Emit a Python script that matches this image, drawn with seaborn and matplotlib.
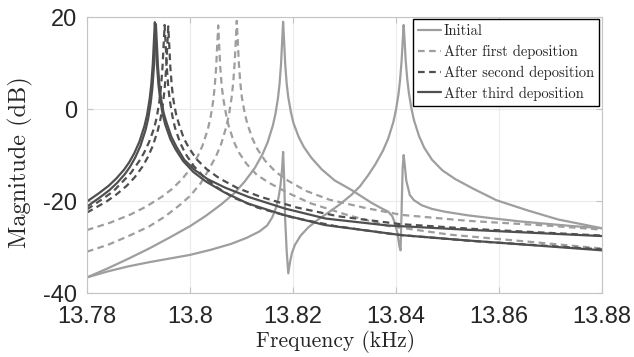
import pandas as pd
import matplotlib
matplotlib.use('Agg')
import matplotlib.pyplot as plt
import seaborn as sns

# values (frequency in kHz, magnitude in dB)
# Initial state, output a (main peak near 13.818, small blip near 13.841)
init_a_f = [13.7800, 13.7841, 13.7881, 13.7921, 13.7961, 13.8001, 13.8031, 13.8061, 13.8086, 13.8106,
            13.8126, 13.8141, 13.8151, 13.8161, 13.8166, 13.8171, 13.8174, 13.8177, 13.8179, 13.8181,
            13.8183, 13.8185, 13.8188, 13.8191, 13.8196, 13.8201, 13.8211, 13.8221, 13.8236, 13.8256,
            13.8281, 13.8314, 13.8353, 13.8371, 13.8385, 13.8393, 13.8398, 13.8403, 13.8407, 13.8409,
            13.8411, 13.8413, 13.8415, 13.8417, 13.8420, 13.8427, 13.8435, 13.8450, 13.8470, 13.8495,
            13.8540, 13.8592, 13.8640, 13.8689, 13.8740, 13.8800]
init_a_db = [-36.6, -34.6, -32.5, -30.3, -27.9, -25.4, -23.2, -20.7, -18.3, -15.8,
             -12.8, -9.8, -7.2, -3.6, -1.1, 2.4, 5.4, 9.9, 14.5, 19.0,
             14.5, 9.9, 5.4, 2.6, -0.6, -3.0, -6.0, -8.2, -10.6, -13.1,
             -15.5, -17.6, -20.4, -21.5, -22.3, -23.3, -24.8, -27.0, -30.0, -30.7,
             -22.0, -13.0, -10.0, -12.0, -15.5, -18.7, -19.8, -20.9, -21.7, -22.3,
             -23.1, -23.8, -24.4, -24.9, -25.4, -25.9]

# Initial state, output b (small blip near 13.818, main peak near 13.8415)
init_b_f = [13.7800, 13.7840, 13.7880, 13.7920, 13.7960, 13.8000, 13.8040, 13.8080, 13.8110, 13.8135,
            13.8150, 13.8160, 13.8167, 13.8172, 13.8176, 13.8179, 13.8181, 13.8183, 13.8185, 13.8188,
            13.8191, 13.8194, 13.8198, 13.8204, 13.8215, 13.8230, 13.8249, 13.8270, 13.8290, 13.8314,
            13.8330, 13.8346, 13.8360, 13.8375, 13.8385, 13.8395, 13.8400, 13.8405, 13.8408, 13.8411,
            13.8413, 13.8415, 13.8417, 13.8419, 13.8422, 13.8425, 13.8430, 13.8435, 13.8445, 13.8455,
            13.8470, 13.8490, 13.8515, 13.8550, 13.8595, 13.8655, 13.8715, 13.8800]
init_b_db = [-36.6, -35.3, -34.2, -33.3, -32.5, -31.7, -30.6, -29.3, -28.0, -26.6,
             -25.3, -23.5, -21.5, -19.3, -16.5, -13.0, -9.3, -15.0, -24.0, -31.0,
             -35.7, -33.5, -31.3, -29.5, -27.5, -25.7, -24.0, -22.4, -20.8, -18.6,
             -16.8, -14.4, -12.0, -9.0, -6.4, -2.8, -0.2, 3.3, 6.3, 10.5,
             14.5, 18.3, 14.5, 10.5, 6.5, 3.6, 0.2, -2.4, -5.9, -8.4,
             -11.0, -13.3, -15.2, -17.3, -19.8, -22.0, -24.0, -25.9]

# after first deposition
dep1_a_f = [13.7800, 13.7845, 13.7885, 13.7915, 13.7945, 13.7965, 13.7985, 13.8000, 13.8015, 13.8025,
            13.8035, 13.8040, 13.8045, 13.8048, 13.8051, 13.8053, 13.8055, 13.8057, 13.8059, 13.8062,
            13.8065, 13.8070, 13.8075, 13.8085, 13.8095, 13.8110, 13.8130, 13.8155, 13.8190, 13.8235,
            13.8305, 13.8385, 13.8505, 13.8655, 13.8800]
dep1_a_db = [-26.3, -24.7, -22.9, -21.2, -19.1, -17.4, -15.2, -13.1, -10.3, -7.8,
             -4.3, -1.9, 1.6, 4.6, 9.1, 13.7, 18.2, 13.7, 9.1, 4.8,
             2.2, -1.0, -3.5, -7.0, -9.4, -11.9, -14.3, -16.1, -18.2, -20.5,
             -23.0, -25.4, -27.3, -28.8, -30.3]
dep1_b_f = [13.7800, 13.7841, 13.7881, 13.7921, 13.7951, 13.7981, 13.8001, 13.8021, 13.8036, 13.8051,
            13.8061, 13.8071, 13.8076, 13.8081, 13.8084, 13.8087, 13.8089, 13.8091, 13.8093, 13.8095,
            13.8098, 13.8101, 13.8106, 13.8111, 13.8121, 13.8131, 13.8146, 13.8166, 13.8191, 13.8226,
            13.8271, 13.8341, 13.8411, 13.8541, 13.8691, 13.8800]
dep1_b_db = [-31.0, -29.5, -27.6, -25.5, -23.4, -20.8, -18.8, -16.1, -13.3, -10.2,
             -7.5, -3.7, -1.1, 2.5, 5.6, 10.1, 14.7, 19.2, 14.7, 10.1,
             5.6, 2.5, -0.6, -3.0, -6.3, -8.7, -11.2, -13.6, -15.6, -17.8,
             -19.7, -21.5, -23.0, -24.3, -25.3, -26.2]

# after second deposition
dep2_a_f = [13.7800, 13.7831, 13.7851, 13.7871, 13.7886, 13.7901, 13.7911, 13.7921, 13.7931, 13.7936,
            13.7941, 13.7944, 13.7947, 13.7949, 13.7951, 13.7953, 13.7955, 13.7958, 13.7961, 13.7966,
            13.7971, 13.7981, 13.7991, 13.8006, 13.8026, 13.8051, 13.8086, 13.8131, 13.8201, 13.8281,
            13.8401, 13.8551, 13.8800]
dep2_a_db = [-21.8, -19.5, -17.9, -15.6, -13.8, -11.4, -9.5, -7.1, -4.0, -1.6,
             1.9, 4.9, 9.4, 14.0, 18.3, 14.0, 9.4, 4.9, 1.9, -1.5,
             -4.0, -7.3, -9.6, -12.2, -14.6, -16.9, -19.3, -21.4, -23.6, -25.4,
             -27.3, -28.7, -30.5]
dep2_b_f = [13.7800, 13.7838, 13.7858, 13.7878, 13.7893, 13.7908, 13.7918, 13.7928, 13.7938, 13.7943,
            13.7948, 13.7951, 13.7954, 13.7956, 13.7958, 13.7960, 13.7962, 13.7965, 13.7968, 13.7973,
            13.7978, 13.7988, 13.7998, 13.8013, 13.8033, 13.8058, 13.8093, 13.8138, 13.8208, 13.8288,
            13.8408, 13.8558, 13.8800]
dep2_b_db = [-22.5, -20.1, -18.5, -16.6, -14.8, -12.5, -10.5, -8.0, -4.5, -2.1,
             1.4, 4.4, 8.9, 13.5, 18.0, 13.8, 9.2, 4.9, 2.0, -1.0,
             -3.0, -6.3, -8.4, -10.9, -13.1, -15.1, -17.2, -19.1, -21.4, -23.3,
             -25.0, -26.1, -27.5]

# after third deposition
dep3_a_f = [13.7800, 13.7822, 13.7842, 13.7857, 13.7872, 13.7882, 13.7892, 13.7902, 13.7912, 13.7917,
            13.7922, 13.7925, 13.7928, 13.7930, 13.7932, 13.7934, 13.7936, 13.7939, 13.7942, 13.7947,
            13.7952, 13.7962, 13.7972, 13.7987, 13.8007, 13.8032, 13.8067, 13.8112, 13.8182, 13.8262,
            13.8411, 13.8532, 13.8655, 13.8800]
dep3_a_db = [-20.1, -18.4, -16.7, -15.1, -13.2, -11.6, -9.6, -7.1, -3.6, -1.2,
             2.3, 5.3, 9.8, 14.4, 18.9, 14.4, 9.8, 5.3, 2.4, -1.0,
             -3.3, -6.5, -8.7, -11.3, -13.7, -15.8, -18.1, -20.5, -23.0, -25.2,
             -27.4, -28.5, -29.5, -30.7]
dep3_b_f = [13.7800, 13.7824, 13.7844, 13.7859, 13.7874, 13.7884, 13.7894, 13.7904, 13.7914, 13.7919,
            13.7924, 13.7927, 13.7930, 13.7932, 13.7934, 13.7936, 13.7938, 13.7941, 13.7944, 13.7949,
            13.7954, 13.7964, 13.7974, 13.7989, 13.8009, 13.8034, 13.8069, 13.8114, 13.8184, 13.8264,
            13.8384, 13.8534, 13.8800]
dep3_b_db = [-21.2, -19.3, -17.6, -16.0, -14.1, -12.5, -10.5, -8.0, -4.5, -2.1,
             1.4, 4.4, 8.9, 13.5, 18.5, 14.0, 9.4, 5.1, 2.3, -0.8,
             -2.7, -6.0, -8.2, -11.0, -13.2, -15.2, -17.1, -19.1, -21.6, -23.8,
             -25.3, -26.2, -27.6]

labels = ['Initial', 'After first deposition', 'After second deposition',
          'After third deposition']
x_ticks = [13.78, 13.80, 13.82, 13.84, 13.86, 13.88]
x_tick_labels = ['13.78', '13.8', '13.82', '13.84', '13.86', '13.88']
y_ticks = [-40, -20, 0, 20]

light = '#9e9e9e'
dark = '#4f4f4f'
styles = [(light, None), (light, (3, 2)), (dark, (3, 2)), (dark, None)]
pairs = [(init_a_f, init_a_db, init_b_f, init_b_db),
         (dep1_a_f, dep1_a_db, dep1_b_f, dep1_b_db),
         (dep2_a_f, dep2_a_db, dep2_b_f, dep2_b_db),
         (dep3_a_f, dep3_a_db, dep3_b_f, dep3_b_db)]

sns.set_theme(style='white')
plt.rcParams['font.family'] = ['Liberation Sans', 'DejaVu Sans']
plt.rcParams['axes.unicode_minus'] = False

fig = plt.figure(figsize=(6.34, 3.57), dpi=100)
ax = fig.add_axes([0.137, 0.179, 0.8125, 0.773])

handles = []
for (fa, da, fb, db), label, (col, dash) in zip(pairs, labels, styles):
    for k, (f, d) in enumerate([(fa, da), (fb, db)]):
        assert len(f) == len(d)
        df = pd.DataFrame({'freq': f, 'mag': d})
        sns.lineplot(data=df, x='freq', y='mag', ax=ax, color=col, lw=1.6,
                     estimator=None, sort=False)
        line = ax.lines[-1]
        line.set_solid_joinstyle('round')
        if dash is not None:
            line.set_dashes(dash)
        if k == 0:
            handles.append(line)

ax.set_xlim(13.78, 13.88)
ax.set_ylim(-40, 20)
ax.set_xticks(x_ticks)
ax.set_xticklabels(x_tick_labels)
ax.set_yticks(y_ticks)
ax.grid(True, color='#ebebeb', lw=0.8)
for s in ax.spines.values():
    s.set_color('#c4c4c4')
    s.set_linewidth(0.8)
ax.tick_params(direction='in', length=4, width=0.8, color='#c4c4c4',
               labelsize=17, labelcolor='#262626', top=True, right=True,
               bottom=True, left=True)
ax.tick_params(axis='x', pad=9)
ax.tick_params(axis='y', pad=7)

ax.set_xlabel('Frequency (kHz)', fontfamily='cmr10', fontsize=15.5, color='#262626')
ax.set_ylabel('Magnitude (dB)', fontfamily='cmr10', fontsize=17.5, color='#262626')
ax.xaxis.set_label_coords(0.4835, -0.135)
ax.yaxis.set_label_coords(-0.105, 0.473)

leg = ax.legend(handles, labels, loc='upper right', bbox_to_anchor=(0.994, 0.992),
                borderaxespad=0, fancybox=False, edgecolor='black', framealpha=1,
                prop={'family': 'cmr10', 'size': 10.5}, handlelength=1.6,
                handletextpad=0.15, labelspacing=0.45, borderpad=0.35)
leg.get_frame().set_linewidth(1.0)

fig.savefig('out.png', dpi=100)
